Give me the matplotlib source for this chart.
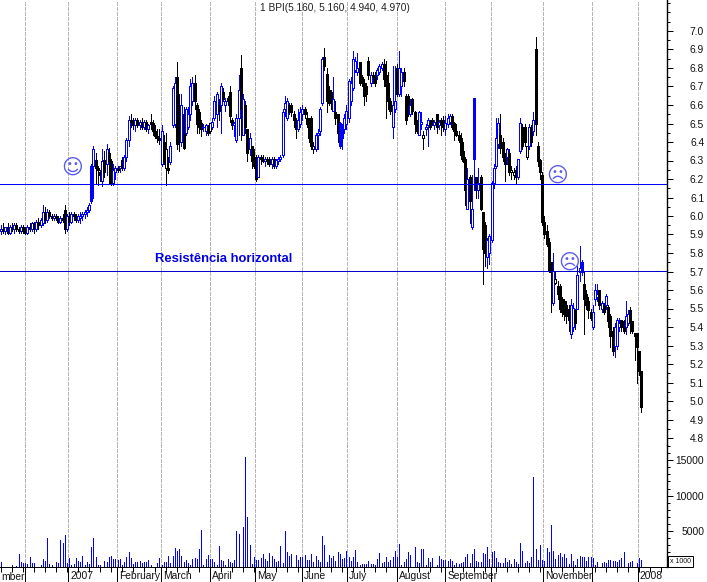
import matplotlib
matplotlib.use("Agg")
import matplotlib.pyplot as plt
import numpy as np
from matplotlib.ticker import FixedLocator, MultipleLocator

title = "1 BPI(5.160, 5.160, 4.940, 4.970)"
note = "Resistência horizontal"
month_pos = [11, 30.5, 52.7, 72.7, 95, 115.5, 136.8, 157.3, 180, 202, 222.7, 246.4, 268.6, 289.5]
month_lab = ["", "2007", "February", "March", "April", "May", "June", "July", "August", "September", "", "November", "", "2008"]
cut_label = "mber"
res_upper = 6.173
res_lower = 5.703
black_hollow = [75, 95, 142, 192, 232, 233, 239, 252]
blue_solid = [41, 154, 155, 215, 264]

opens = [
5.92,5.93,5.92,5.94,5.91,5.94,5.93,5.95,5.93,5.92,
5.94,5.92,5.91,5.94,5.93,5.96,5.93,5.97,5.95,5.96,
6.02,5.98,6.02,6.00,5.99,6.00,5.99,5.97,5.99,6.03,
5.93,6.00,5.97,6.01,6.00,5.98,5.99,6.00,6.01,6.02,
6.03,6.08,6.27,6.30,6.26,6.24,6.19,6.30,6.28,6.34,
6.30,6.18,6.24,6.26,6.26,6.30,6.26,6.32,6.41,6.52,
6.51,6.49,6.52,6.49,6.51,6.48,6.51,6.47,6.51,6.50,
6.46,6.43,6.42,6.28,6.40,6.36,6.26,6.29,6.49,6.50,
6.75,6.60,6.40,6.55,6.45,6.48,6.55,6.62,6.72,6.60,
6.56,6.50,6.48,6.46,6.47,6.46,6.48,6.53,6.55,6.60,
6.60,6.67,6.60,6.64,6.67,6.52,6.49,6.41,6.53,6.80,
6.44,6.60,6.47,6.36,6.38,6.32,6.30,6.21,6.32,6.31,
6.30,6.31,6.31,6.28,6.31,6.27,6.30,6.31,6.33,6.58,
6.53,6.60,6.60,6.55,6.52,6.47,6.50,6.55,6.58,6.53,
6.50,6.53,6.38,6.36,6.44,6.46,6.61,6.86,6.77,6.68,
6.67,6.57,6.56,6.55,6.38,6.42,6.47,6.50,6.53,6.62,
6.69,6.79,6.78,6.83,6.75,6.72,6.70,6.84,6.72,6.76,
6.76,6.76,6.78,6.80,6.82,6.76,6.72,6.62,6.48,6.58,
6.80,6.66,6.70,6.78,6.65,6.65,6.55,6.63,6.56,6.50,
6.44,6.50,6.42,6.47,6.49,6.50,6.52,6.49,6.55,6.49,
6.52,6.52,6.47,6.50,6.51,6.54,6.50,6.46,6.44,6.42,
6.35,6.31,6.04,6.21,5.94,6.31,6.21,6.14,6.21,6.02,
5.95,5.78,5.80,5.87,6.18,6.27,6.39,6.44,6.40,6.33,
6.32,6.34,6.24,6.22,6.25,6.21,6.35,6.48,6.48,6.32,
6.38,6.48,6.46,6.90,6.38,6.30,6.22,5.97,5.92,5.86,
5.75,5.53,5.64,5.62,5.62,5.55,5.54,5.52,5.50,5.36,
5.40,5.49,5.50,5.70,5.70,5.63,5.58,5.54,5.48,5.40,
5.55,5.56,5.60,5.50,5.52,5.52,5.51,5.46,5.38,5.30,
5.30,5.40,5.44,5.43,5.40,5.42,5.49,5.43,5.37,5.37,
5.27,5.16]
highs = [
5.95,5.96,5.94,5.96,5.95,5.96,5.96,5.96,5.94,5.95,
5.95,5.94,5.95,5.96,5.97,5.97,5.98,5.99,5.99,6.06,
6.05,6.04,6.03,6.01,6.01,6.01,6.00,6.00,6.01,6.06,
6.01,6.02,6.02,6.02,6.01,6.01,6.02,6.02,6.03,6.05,
6.07,6.28,6.38,6.34,6.27,6.25,6.36,6.35,6.39,6.37,
6.31,6.28,6.27,6.27,6.27,6.32,6.33,6.42,6.54,6.55,
6.53,6.53,6.53,6.52,6.53,6.52,6.52,6.50,6.55,6.52,
6.49,6.47,6.47,6.49,6.44,6.45,6.32,6.40,6.70,6.75,
6.83,6.66,6.66,6.59,6.59,6.59,6.74,6.75,6.76,6.61,
6.58,6.52,6.50,6.50,6.49,6.50,6.53,6.65,6.67,6.63,
6.72,6.69,6.64,6.65,6.70,6.53,6.51,6.55,6.76,6.87,
6.66,6.62,6.47,6.45,6.38,6.36,6.33,6.33,6.33,6.33,
6.32,6.32,6.32,6.32,6.32,6.31,6.32,6.33,6.58,6.65,
6.64,6.61,6.61,6.57,6.53,6.58,6.59,6.60,6.59,6.56,
6.53,6.54,6.40,6.45,6.47,6.59,6.86,6.91,6.80,6.70,
6.68,6.75,6.62,6.55,6.51,6.50,6.55,6.60,6.74,6.75,
6.89,6.86,6.88,6.83,6.76,6.74,6.72,6.86,6.78,6.78,
6.78,6.80,6.82,6.83,6.85,6.84,6.78,6.64,6.81,6.81,
6.82,6.89,6.80,6.80,6.66,6.66,6.63,6.64,6.57,6.52,
6.57,6.56,6.46,6.50,6.53,6.52,6.53,6.52,6.55,6.52,
6.53,6.54,6.54,6.55,6.55,6.55,6.51,6.50,6.46,6.45,
6.40,6.32,6.26,6.22,6.22,6.64,6.21,6.26,6.22,6.02,
5.97,5.88,5.90,6.19,6.28,6.53,6.53,6.55,6.42,6.34,
6.37,6.36,6.27,6.26,6.27,6.31,6.53,6.50,6.50,6.38,
6.50,6.49,6.56,6.97,6.40,6.31,6.24,6.00,5.95,5.88,
5.75,5.80,5.70,5.65,5.63,5.56,5.55,5.54,5.52,5.55,
5.53,5.50,5.73,5.84,5.76,5.70,5.60,5.56,5.50,5.52,
5.63,5.63,5.60,5.54,5.53,5.58,5.52,5.47,5.40,5.42,
5.45,5.45,5.44,5.44,5.54,5.49,5.51,5.43,5.37,5.37,
5.27,5.16]
lows = [
5.90,5.91,5.90,5.90,5.90,5.92,5.91,5.92,5.91,5.91,
5.91,5.90,5.90,5.92,5.92,5.91,5.92,5.93,5.94,5.95,
5.96,5.97,5.99,5.98,5.98,5.98,5.96,5.96,5.97,5.91,
5.92,5.95,5.96,5.98,5.97,5.97,5.96,5.98,5.99,6.00,
6.02,6.07,6.10,6.18,6.17,6.19,6.16,6.21,6.22,6.18,
6.17,6.17,6.20,6.24,6.24,6.25,6.25,6.30,6.38,6.48,
6.47,6.46,6.48,6.47,6.47,6.47,6.46,6.45,6.47,6.44,
6.42,6.40,6.39,6.27,6.28,6.17,6.23,6.28,6.48,6.48,
6.36,6.35,6.38,6.36,6.44,6.47,6.52,6.60,6.58,6.45,
6.45,6.43,6.46,6.44,6.44,6.45,6.47,6.52,6.48,6.52,
6.45,6.62,6.57,6.60,6.51,6.47,6.43,6.40,6.44,6.41,
6.44,6.45,6.30,6.33,6.26,6.26,6.19,6.21,6.28,6.29,
6.27,6.28,6.27,6.26,6.26,6.26,6.28,6.30,6.32,6.54,
6.52,6.55,6.54,6.48,6.42,6.46,6.48,6.52,6.53,6.48,
6.40,6.36,6.34,6.35,6.36,6.44,6.60,6.79,6.56,6.60,
6.58,6.57,6.50,6.40,6.37,6.36,6.45,6.47,6.51,6.60,
6.68,6.78,6.76,6.71,6.70,6.60,6.62,6.74,6.70,6.72,
6.70,6.74,6.77,6.79,6.70,6.53,6.58,6.55,6.42,6.56,
6.65,6.65,6.65,6.70,6.50,6.54,6.54,6.55,6.45,6.45,
6.44,6.47,6.36,6.44,6.38,6.47,6.49,6.47,6.45,6.47,
6.44,6.46,6.44,6.48,6.50,6.47,6.41,6.43,6.40,6.31,
6.29,6.06,6.04,5.96,5.93,6.14,6.10,6.10,6.03,5.63,
5.73,5.72,5.74,5.86,6.15,6.26,6.37,6.34,6.30,6.19,
6.28,6.22,6.20,6.20,6.18,6.20,6.34,6.36,6.38,6.31,
6.36,6.38,6.44,6.44,6.27,6.20,5.95,5.88,5.84,5.70,
5.48,5.52,5.63,5.55,5.48,5.46,5.44,5.42,5.38,5.34,
5.38,5.39,5.50,5.65,5.68,5.36,5.50,5.45,5.44,5.39,
5.52,5.54,5.50,5.48,5.47,5.50,5.40,5.29,5.25,5.24,
5.28,5.38,5.38,5.37,5.36,5.41,5.37,5.37,5.22,5.10,
5.14,4.94]
closes = [
5.93,5.92,5.94,5.91,5.94,5.93,5.95,5.93,5.92,5.94,
5.92,5.91,5.94,5.93,5.96,5.93,5.97,5.95,5.98,6.02,
5.98,6.02,6.00,5.99,6.00,5.99,5.97,5.99,5.98,5.93,
6.00,5.97,6.01,6.00,5.98,6.00,6.00,6.01,6.02,6.03,
6.06,6.27,6.36,6.26,6.25,6.22,6.30,6.24,6.36,6.30,
6.18,6.25,6.26,6.25,6.27,6.26,6.32,6.41,6.52,6.51,
6.49,6.52,6.49,6.51,6.48,6.51,6.47,6.49,6.50,6.46,
6.43,6.42,6.41,6.46,6.30,6.26,6.25,6.38,6.69,6.72,
6.39,6.40,6.60,6.37,6.58,6.55,6.70,6.72,6.62,6.50,
6.48,6.47,6.48,6.49,6.45,6.50,6.51,6.62,6.66,6.57,
6.70,6.63,6.62,6.62,6.54,6.49,6.50,6.53,6.68,6.58,
6.63,6.48,6.34,6.42,6.30,6.27,6.20,6.32,6.31,6.30,
6.31,6.30,6.28,6.31,6.27,6.30,6.31,6.32,6.56,6.61,
6.62,6.56,6.56,6.52,6.47,6.52,6.56,6.58,6.55,6.50,
6.42,6.38,6.36,6.44,6.45,6.58,6.85,6.81,6.62,6.61,
6.61,6.63,6.53,6.45,6.50,6.48,6.53,6.57,6.73,6.72,
6.85,6.84,6.80,6.72,6.72,6.65,6.66,6.76,6.76,6.75,
6.72,6.79,6.81,6.82,6.74,6.70,6.62,6.57,6.60,6.62,
6.66,6.80,6.78,6.73,6.52,6.55,6.60,6.57,6.50,6.46,
6.56,6.51,6.44,6.48,6.52,6.48,6.50,6.51,6.48,6.51,
6.50,6.48,6.50,6.53,6.54,6.48,6.46,6.44,6.41,6.33,
6.30,6.14,6.20,6.08,6.04,6.64,6.14,6.18,6.04,5.82,
5.80,5.87,5.89,6.18,6.26,6.42,6.50,6.37,6.32,6.28,
6.36,6.24,6.25,6.24,6.21,6.31,6.50,6.38,6.40,6.38,
6.48,6.40,6.52,6.50,6.30,6.24,5.97,5.90,5.85,5.71,
5.70,5.70,5.66,5.58,5.50,5.48,5.47,5.46,5.44,5.52,
5.50,5.42,5.68,5.72,5.75,5.55,5.52,5.49,5.45,5.48,
5.60,5.58,5.52,5.53,5.48,5.57,5.43,5.35,5.27,5.40,
5.44,5.42,5.40,5.38,5.46,5.47,5.42,5.38,5.35,5.29,
5.16,4.97]
volume = [
670,0,0,0,0,200,0,100,1800,650,
500,550,380,1350,480,480,0,0,240,1000,
760,3950,380,200,0,650,450,3800,3300,4400,
480,1200,240,380,1200,800,700,1450,240,700,
380,2750,4050,1350,240,240,0,800,650,1350,
1450,1000,1000,900,1050,280,600,1350,2000,1200,
300,600,700,750,480,700,700,900,280,0,
0,480,1150,280,570,700,1450,480,1450,2600,
2200,2400,1450,650,900,480,190,1000,1200,1050,
2500,5200,190,1050,1650,1100,1000,600,250,2900,
900,800,190,1000,700,480,900,5000,4600,0,
5600,15400,7000,3100,300,1350,950,950,1150,1750,
1050,800,1900,1450,1100,650,800,2900,480,5000,
2050,1450,1750,0,1650,950,1350,1350,1600,950,
950,1750,650,1500,950,650,4250,3000,650,1650,
1200,1500,800,2050,1750,1100,1200,2200,1350,800,
1400,2350,700,250,380,380,380,800,380,380,
240,1050,1900,480,670,1350,670,860,1350,2200,
1350,3200,190,670,1050,2100,1650,0,2750,570,
480,2500,2500,240,1200,570,1240,0,190,1480,
1050,950,900,800,1050,760,240,480,290,480,
570,1350,1700,480,1800,2500,800,670,670,1900,
1700,2750,1050,2100,2200,1200,570,480,480,1200,
700,950,380,1050,700,380,3250,2200,480,760,
480,1350,12600,2500,950,3100,950,800,2600,2100,
5800,2200,1050,1650,1900,1350,1800,1200,380,1700,
800,240,1050,1450,1350,1350,800,1350,1350,1200,
190,670,0,480,670,480,900,900,800,800,
670,900,1200,2100,0,480,670,800,0,480,
1200,900]

W, H = 707, 582
PX = 1 / 100 * 72  # one pixel in points
fig = plt.figure(figsize=(W / 100, H / 100), dpi=100, facecolor="white")
plt.rcParams["font.family"] = ["Liberation Sans", "DejaVu Sans"]

SPLIT = 445
BOTTOM = 566.5
RIGHT = 666.5
ax = fig.add_axes([0, 1 - SPLIT / H, RIGHT / W, SPLIT / H])
av = fig.add_axes([0, 1 - BOTTOM / H, RIGHT / W, (BOTTOM - SPLIT) / H])

n = min(len(opens), len(highs), len(lows), len(closes))
idx = np.arange(n)
o, h, l, c = [np.array(a[:n]) for a in (opens, highs, lows, closes)]
BLUE = "#0000FF"
edge, face = [], []
for i in range(n):
    if i in black_hollow:
        edge.append("black"); face.append("white")
    elif c[i] >= o[i]:
        edge.append(BLUE); face.append(BLUE if i in blue_solid else "white")
    else:
        edge.append("black"); face.append("black")

xlim = (-1 / 2.2, (RIGHT - 1) / 2.2)
for a in (ax, av):
    a.set_xlim(*xlim)
    a.set_facecolor("none")
    for s in a.spines.values():
        s.set_visible(False)
    a.spines["right"].set_visible(True)
    a.spines["right"].set_linewidth(1.4 * PX)
    for m in month_pos:
        a.axvline(m, color="#b4b4b4", lw=1 * PX, dashes=(3, 2), zorder=1, antialiased=False)
ax.set_ylim(7 - (SPLIT - 31) / 185, 7 + 31 / 185)
av.set_ylim(0, (BOTTOM - 0.5 - SPLIT) / 7.06 * 1000)

ax.vlines(idx, l, h, colors=edge, lw=1 * PX, zorder=2, antialiased=False)
ax.bar(idx, np.abs(c - o), bottom=np.minimum(o, c), width=0.9, color=face,
       edgecolor=edge, linewidth=1 * PX, zorder=3, antialiased=False)
ax.axhline(res_upper, color=BLUE, lw=1 * PX, zorder=5, antialiased=False)
ax.axhline(res_lower, color="#0000C8", lw=1 * PX, zorder=5, antialiased=False)

vol = np.array(volume[:n])
av.vlines(idx[vol > 0], 0, vol[vol > 0], colors=BLUE, lw=1 * PX, zorder=3, antialiased=False)

# right-hand scales
ax.xaxis.set_visible(False)
ax.yaxis.tick_right()
ax.yaxis.set_major_locator(FixedLocator(np.round(np.arange(4.8, 7.01, 0.1), 1)))
ax.yaxis.set_minor_locator(MultipleLocator(0.05))
ax.yaxis.set_major_formatter(lambda v, p: f"{v:.1f}")
av.yaxis.tick_right()
av.yaxis.set_major_locator(FixedLocator([5000, 10000, 15000]))
av.yaxis.set_minor_locator(MultipleLocator(1000))
av.yaxis.set_major_formatter(lambda v, p: f"{int(v)}")
for a in (ax, av):
    a.tick_params(axis="y", which="major", length=6 * PX, width=1 * PX, pad=22.8, labelsize=7.4, labelcolor="#111111")
    a.tick_params(axis="y", which="minor", length=3 * PX, width=1 * PX)
    for t in a.get_yticklabels():
        t.set_ha("right")

# bottom time axis
av.spines["bottom"].set_visible(True)
av.spines["bottom"].set_linewidth(1 * PX)
av.xaxis.set_major_locator(FixedLocator(month_pos))
av.set_xticklabels(month_lab, ha="left", fontsize=7.4, color="#111111")
av.xaxis.set_minor_locator(MultipleLocator(5))
av.tick_params(axis="x", which="major", length=16 * PX, width=1 * PX, pad=-8.2)
av.tick_params(axis="x", which="minor", length=5 * PX, width=1 * PX)
for t in av.get_xticklabels():
    t.set_transform(t.get_transform() + matplotlib.transforms.ScaledTranslation(2 / 100, 0, fig.dpi_scale_trans))

fig.text(1 / W, 1 - 577 / H, cut_label, fontsize=7.4, color="#111111", va="center", ha="left")
fig.text(335 / W, 1 - 8 / H, title, fontsize=7.3, color="#222222", ha="center", va="center")
fig.text(155 / W, 1 - 259 / H, note, fontsize=9.4, color="#0000E0", fontweight="bold", ha="left", va="center")

# smileys
smile = dict(family=["DejaVu Sans"], fontsize=15, color="#5A5AF0", ha="center", va="center", zorder=6)
ax.text(32.3, 6.26, "\u263A", **smile)
ax.text(252.7, 6.22, "\u2639", **smile)
ax.text(258.2, 5.75, "\u2639", **smile)

fig.text(680.5 / W, 1 - 561.5 / H, "x 1000", fontsize=5, color="#111111", ha="center", va="center",
         bbox=dict(boxstyle="square,pad=0.25", fc="white", ec="black", lw=1 * PX))

fig.savefig("out.png", dpi=100, facecolor="white")
